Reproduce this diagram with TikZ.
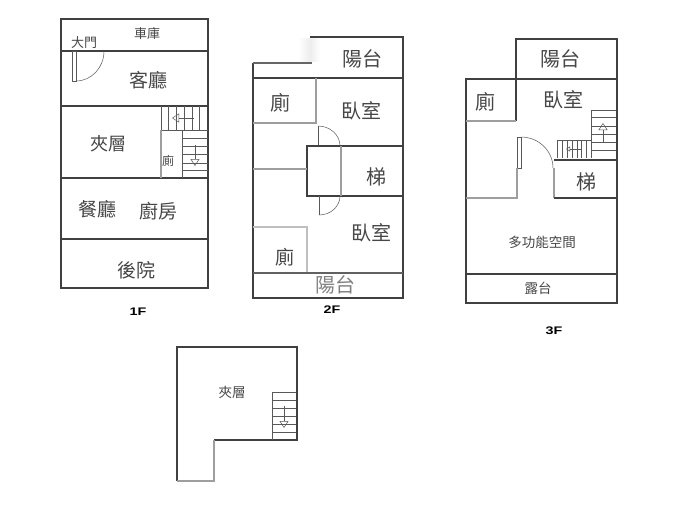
\documentclass[tikz,border=0pt]{standalone}
\usepackage{fontspec}
\usepackage{tikz}
\usetikzlibrary{arrows.meta}
\setmainfont{Noto Sans CJK TC}
\newfontfamily\latinbold{Liberation Sans}[BoldFont={Liberation Sans Bold}]

\tikzset{
    wall/.style={draw=black!75, line width=1.7pt},
    softwall/.style={draw=black!38, line width=2pt},
    thinline/.style={draw=black!65, line width=0.5pt},
    stairarrow/.style={thinline, -{Triangle[open,length=7pt,width=9pt]}},
    room/.style={inner sep=0pt, text=black!72},
    floorname/.style={inner sep=0pt, xscale=1.3, font=\latinbold\bfseries\fontsize{11}{11}\selectfont}
}

\begin{document}
\begin{tikzpicture}[x=1pt,y=-1pt]
        \useasboundingbox[fill=white] (0,0) rectangle (691,511);
        % 1F
        \draw[wall] (61,19) rectangle (208,288);
        \foreach \yy in {51,106,178,239}
            \draw[wall] (60,\yy) -- (209,\yy);
        \draw[thinline] (72,51) rectangle (76,81);
        \draw[thinline] (76,81) arc (90:0:28 and 30);
        \foreach \xx in {161,168,176,184,192,199}
            \draw[thinline] (\xx,106) -- (\xx,130);
        \draw[thinline] (161,130) -- (208,130);
        \draw[stairarrow] (194,118) -- (172,118);
        \draw[thinline] (182,130) -- (182,178);
        \foreach \yy in {138,146,154,163,170}
            \draw[thinline] (182,\yy) -- (208,\yy);
        \draw[stairarrow] (195,145) -- (195,166);
        \draw[softwall] (161,130) -- (161,178);
        \node[room,font=\fontsize{13}{13}\selectfont] (garage) at (147,34) {車庫};
        \node[room,font=\fontsize{13}{13}\selectfont] (frontdoor) at (84,43) {大門};
        \node[room,font=\fontsize{19}{19}\selectfont] (living) at (148,80) {客廳};
        \node[room,font=\fontsize{18}{18}\selectfont] (mezzone) at (108,144) {夾層};
        \node[room,font=\fontsize{12}{12}\selectfont] (wcone) at (168,161) {廁};
        \node[room,font=\fontsize{19}{19}\selectfont] (dining) at (97,209) {餐廳};
        \node[room,font=\fontsize{19}{19}\selectfont] (kitchen) at (158,211) {廚房};
        \node[room,font=\fontsize{19}{19}\selectfont] (backyard) at (136,270) {後院};
        \node[floorname] (floorone) at (138,312) {1F};
        % 2F
        \shade[left color=white,right color=black!7] (298,39) rectangle (310,62);
        \shade[left color=black!7,right color=white] (310,39) rectangle (320,62);
        \draw[wall] (310,37) -- (403,37) -- (403,298) -- (253,298) -- (253,63);
        \draw[draw=black!60, line width=1.7pt] (253,63) -- (312,63);
        \draw[wall] (253,78) -- (403,78);
        \draw[softwall] (316,78) -- (316,123) -- (253,123);
        \draw[thinline] (318,126) -- (318,146);
        \draw[thinline] (318,126) arc (-90:0:22 and 20);
        \draw[wall] (403,146) -- (307,146) -- (307,196) -- (403,196);
        \draw[softwall] (341,146) -- (341,196);
        \draw[softwall] (253,169) -- (307,169);
        \draw[thinline] (319,196) -- (319,215);
        \draw[thinline] (319,215) arc (90:0:21 and 19);
        \draw[draw=black!25, line width=1.6pt] (253,227) -- (307,227) -- (307,273);
        \draw[draw=black!62, line width=1.4pt] (253,273) -- (403,273);
        \node[room,font=\fontsize{20}{20}\selectfont] (balconytwo) at (362,59) {陽台};
        \node[room,font=\fontsize{20}{20}\selectfont] (wctwo) at (280,103) {廁};
        \node[room,font=\fontsize{20}{20}\selectfont] (bedtwo) at (361,111) {臥室};
        \node[room,font=\fontsize{20}{20}\selectfont] (stairtwo) at (376,177) {梯};
        \node[room,font=\fontsize{20}{20}\selectfont] (bedthree) at (371,233) {臥室};
        \node[room,font=\fontsize{19}{19}\selectfont] (wcthree) at (285,257) {廁};
        \node[room,text=black!50,font=\fontsize{20}{20}\selectfont] (balconyback) at (335,285) {陽台};
        \node[floorname] (floortwo) at (332,310) {2F};
        % 3F
        \draw[wall] (516,121) -- (516,39) -- (617,39) -- (617,303) -- (466,303) -- (466,79) -- (617,79);
        \draw[wall] (466,274) -- (617,274);
        \draw[softwall] (466,121) -- (516,121);
        \draw[thinline] (517,137) rectangle (521,168);
        \draw[thinline] (521,137) arc (-90:0:32 and 31);
        \draw[softwall] (517,168) -- (517,198) -- (466,198);
        \draw[softwall] (554,168) -- (554,198);
        \draw[wall] (554,160) -- (617,160);
        \draw[wall] (554,198) -- (617,198);
        \draw[thinline] (591,110) -- (616,110);
        \foreach \yy in {117,126,134,142,150}
            \draw[thinline] (591,\yy) -- (616,\yy);
        \draw[thinline] (591,110) -- (591,158);
        \draw[stairarrow] (603,143) -- (603,123);
        \draw[thinline] (557,140) -- (591,140);
        \foreach \xx in {557,562,567,572,577,581,586}
            \draw[thinline] (\xx,140) -- (\xx,158);
        \draw[thinline, -{Triangle[open,length=4pt,width=5pt]}] (581,149) -- (566,149);
        \node[room,font=\fontsize{20}{20}\selectfont] (balconyup) at (560,59) {陽台};
        \node[room,font=\fontsize{20}{20}\selectfont] (wcup) at (485,102) {廁};
        \node[room,font=\fontsize{20}{20}\selectfont] (bedup) at (563,100) {臥室};
        \node[room,font=\fontsize{20}{20}\selectfont] (stairup) at (586,182) {梯};
        \node[room,font=\fontsize{13.5}{14}\selectfont] (multiroom) at (542,242) {多功能空間};
        \node[room,font=\fontsize{13.5}{14}\selectfont] (terrace) at (538,288) {露台};
        \node[floorname] (floorthree) at (554,331) {3F};
        % mezzanine
        \draw[wall] (214,440) -- (297,440) -- (297,347) -- (177,347) -- (177,481);
        \draw[softwall] (214,440) -- (214,481) -- (177,481);
        \draw[thinline] (272,440) -- (272,392) -- (296,392);
        \foreach \yy in {400,408,416,424,432}
            \draw[thinline] (272,\yy) -- (296,\yy);
        \draw[stairarrow] (284,406) -- (284,428);
        \node[room,font=\fontsize{13.5}{14}\selectfont] (mezztop) at (232,392) {夾層};
    \end{tikzpicture}
\end{document}
